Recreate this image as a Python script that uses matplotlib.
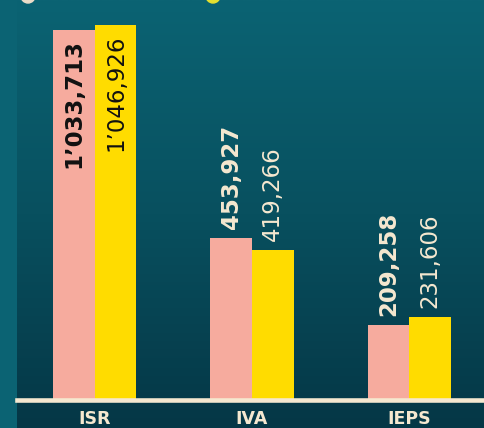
import numpy as np
import matplotlib
matplotlib.use("Agg")
import matplotlib.pyplot as plt
from matplotlib.colors import LinearSegmentedColormap
from matplotlib.patches import Circle, Rectangle
from matplotlib.transforms import IdentityTransform

categorias = ["ISR", "IVA", "IEPS"]
serie_rosa = [1033713, 453927, 209258]
serie_amarilla = [1046926, 419266, 231606]

ROSA = "#f6ab9e"
AMARILLO = "#ffdc00"
CREMA = "#f5e8d0"
FONDO_ARRIBA = "#0b6373"
FONDO_ABAJO = "#053746"


def formato(v):
    if v >= 1000000:
        return f"{v // 1000000}\u2019{(v % 1000000) // 1000:03d},{v % 1000:03d}"
    return f"{v:,}"


def dibujar():
    W, H = 484, 428
    fig = plt.figure(figsize=(W / 100, H / 100), dpi=100, facecolor="#064553")

    # degradado de fondo
    fondo = fig.add_axes([0, 0, 1, 1], zorder=-5)
    fondo.axis("off")
    cmap = LinearSegmentedColormap.from_list("fondo", [FONDO_ABAJO, "#08505f", FONDO_ARRIBA])
    c = np.linspace(0, 1, 214).reshape(-1, 1)
    fondo.imshow(c, cmap=cmap, aspect="auto", origin="lower", extent=(0, 1, 0, 1))
    fondo.set_xlim(0, 1)
    fondo.set_ylim(0, 1)
    # franja izquierda
    fondo.add_patch(Rectangle((0, 0), 17 / W, 1, color=FONDO_ARRIBA, lw=0, zorder=3))

    # marcadores de leyenda cortados arriba
    for cx, col in [(28, "#ecdcc8"), (213, "#e4e030")]:
        fig.add_artist(Circle((cx, H + 4), 7, color=col, transform=IdentityTransform()))

    base = 28
    ax = fig.add_axes([17 / W, base / H, 1 - 17 / W, (H - base) / H])
    ax.patch.set_alpha(0)

    escala = 370 / serie_rosa[0]
    ymax = (H - base) / escala
    x = np.arange(len(categorias))
    ancho = 41.5 / 157
    ax.bar(x - ancho / 2, serie_rosa, ancho, color=ROSA, zorder=2)
    ax.bar(x + ancho / 2, serie_amarilla, ancho, color=AMARILLO, zorder=2)

    x0 = -78 / 157
    ax.set_xlim(x0, x0 + 467 / 157)
    ax.set_ylim(0, ymax)

    desp = 9 / escala
    for i in range(len(categorias)):
        for v, dx, peso in [(serie_rosa[i], -ancho / 2, "bold"), (serie_amarilla[i], ancho / 2, "normal")]:
            if v > 800000:
                ax.text(x[i] + dx, v - desp, formato(v), rotation=90, ha="center", va="top",
                        fontsize=16.5, fontweight=peso, color="#111111", zorder=3)
            else:
                ax.text(x[i] + dx, v + desp, formato(v), rotation=90, ha="center", va="bottom",
                        fontsize=16.5, fontweight=peso, color=CREMA, zorder=3)

    for s in ["top", "right", "left"]:
        ax.spines[s].set_visible(False)
    ax.spines["bottom"].set_color(CREMA)
    ax.spines["bottom"].set_linewidth(3.3)
    ax.spines["bottom"].set_zorder(4)
    ax.set_yticks([])
    ax.set_xticks(x)
    ax.set_xticklabels(categorias, fontsize=12.5, fontweight="bold", color=CREMA)
    ax.tick_params(axis="x", length=0, pad=7)

    fig.savefig("out.png", dpi=100, facecolor=fig.get_facecolor())


if __name__ == "__main__":
    dibujar()
